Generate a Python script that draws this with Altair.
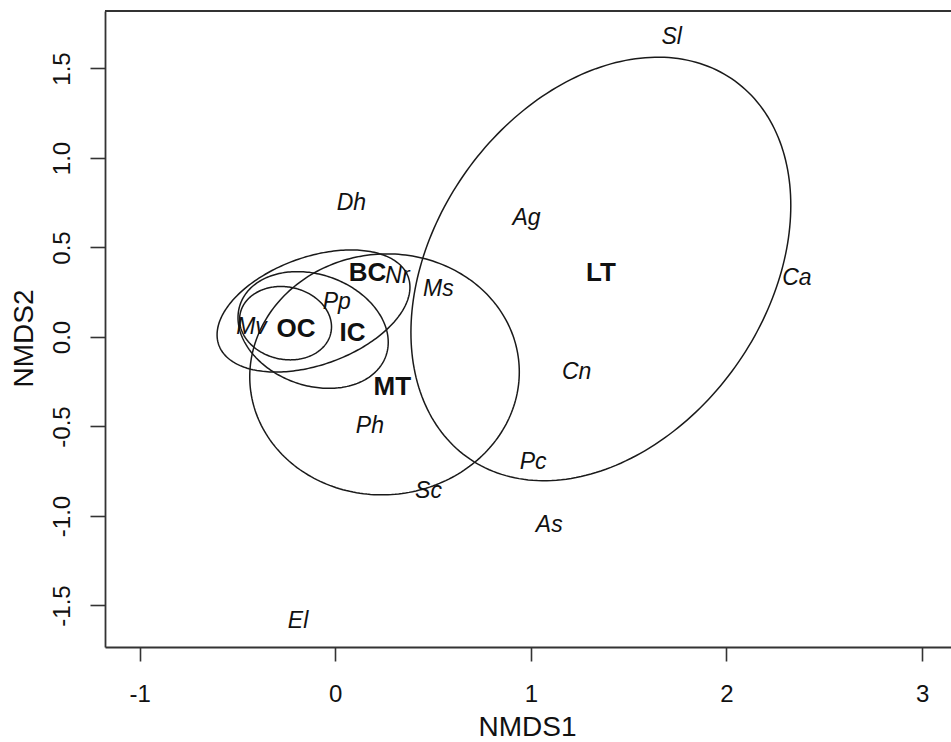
import numpy as np
import pandas as pd
import altair as alt

# ---- data ----
species = ["Sl", "Dh", "Ag", "Nr", "Ms", "Pp", "Mv", "Ca", "Cn", "Ph", "Pc", "Sc", "As", "El"]
species_x = [1.72, 0.083, 0.978, 0.318, 0.527, 0.008, -0.428, 2.36, 1.234, 0.177, 1.012, 0.477, 1.094, -0.19]
species_y = [1.678, 0.747, 0.663, 0.34, 0.266, 0.197, 0.053, 0.328, -0.194, -0.50, -0.70, -0.86, -1.05, -1.585]

groups = ["BC", "OC", "IC", "MT", "LT"]
group_x = [0.165, -0.20, 0.088, 0.292, 1.358]
group_y = [0.356, 0.046, 0.02, -0.278, 0.36]

# ellipse parameters: centre, half-width, half-height, correlation (tilt)
ell_names = ["BC", "OC", "IC", "MT", "LT"]
ell_cx = [-0.111, -0.254, -0.113, 0.252, 1.358]
ell_cy = [0.145, 0.077, 0.039, -0.209, 0.38]
ell_hw = [0.493, 0.235, 0.384, 0.689, 0.971]
ell_hh = [0.341, 0.205, 0.326, 0.673, 1.183]
ell_r = [0.39, -0.10, -0.21, 0.02, 0.30]

x_ticks = [-1, 0, 1, 2, 3]
y_ticks = [-1.5, -1.0, -0.5, 0.0, 0.5, 1.0, 1.5]
x_domain = [-1.177, 3.148]
y_domain = [-1.732, 1.821]

# ---- build tables ----
rows = []
t = np.linspace(0, 2 * np.pi, 241)
for n, cx, cy, hw, hh, r in zip(ell_names, ell_cx, ell_cy, ell_hw, ell_hh, ell_r):
    ex = cx + hw * np.cos(t)
    ey = cy + hh * (r * np.cos(t) + np.sqrt(1 - r * r) * np.sin(t))
    for i, (a, b) in enumerate(zip(ex, ey)):
        rows.append({"g": n, "i": i, "x": a, "y": b})
ell_df = pd.DataFrame(rows)
sp_df = pd.DataFrame({"lab": species, "x": species_x, "y": species_y})
gr_df = pd.DataFrame({"lab": groups, "x": group_x, "y": group_y})

FONT = "Liberation Sans"
xs = alt.Scale(domain=x_domain, nice=False, zero=False)
ys = alt.Scale(domain=y_domain, nice=False, zero=False)

x_axis = alt.Axis(
    values=x_ticks, title="NMDS1", grid=False,
    labelExpr="datum.value < 0 ? '-' + format(-datum.value, 'd') : format(datum.value, 'd')",
    tickSize=14, labelPadding=21, labelFlush=False,
    titleX=422, titleY=88, titleBaseline="alphabetic", titleAlign="center",
)
y_axis = alt.Axis(
    values=y_ticks, title="NMDS2", grid=False,
    labelExpr="datum.value < 0 ? '-' + format(-datum.value, '.1f') : format(datum.value, '.1f')",
    labelAngle=270, labelAlign="center", labelBaseline="bottom",
    tickSize=15, labelPadding=16, labelFlush=False,
    titleAngle=270, titleX=-67, titleY=327, titleBaseline="bottom", titleAlign="center",
)

ellipses = alt.Chart(ell_df).mark_line(color="#1a1a1a", strokeWidth=1.5, clip=True).encode(
    x=alt.X("x:Q", scale=xs, axis=x_axis),
    y=alt.Y("y:Q", scale=ys, axis=y_axis),
    detail="g:N",
    order="i:Q",
)

sp_text = alt.Chart(sp_df).mark_text(
    font=FONT, fontStyle="italic", fontSize=23, color="#111", align="center", baseline="middle"
).encode(x=alt.X("x:Q", scale=xs), y=alt.Y("y:Q", scale=ys), text="lab:N")

gr_text = alt.Chart(gr_df).mark_text(
    font=FONT, fontWeight="bold", fontSize=26, color="#111", align="center", baseline="middle"
).encode(x=alt.X("x:Q", scale=xs), y=alt.Y("y:Q", scale=ys), text="lab:N")

top_line = alt.Chart(gr_df).mark_rule(color="#333", strokeWidth=1.8).encode(
    x=alt.value(0), x2=alt.value(846), y=alt.value(0)
)

chart = alt.layer(ellipses, sp_text, gr_text, top_line).properties(
    width=846, height=636,
    autosize=alt.AutoSizeParams(type="none"),
    padding={"left": 105, "top": 11, "right": 0, "bottom": 95},
    background="white",
).configure_view(stroke=None).configure_axis(
    labelFont=FONT, labelFontSize=24, labelColor="#111",
    titleFont=FONT, titleFontSize=28, titleFontWeight="normal", titleColor="#111",
    tickColor="#333", tickWidth=1.6, domainColor="#333", domainWidth=1.8,
)

chart.save("out.html", embed_options={"renderer": "svg", "actions": False})
